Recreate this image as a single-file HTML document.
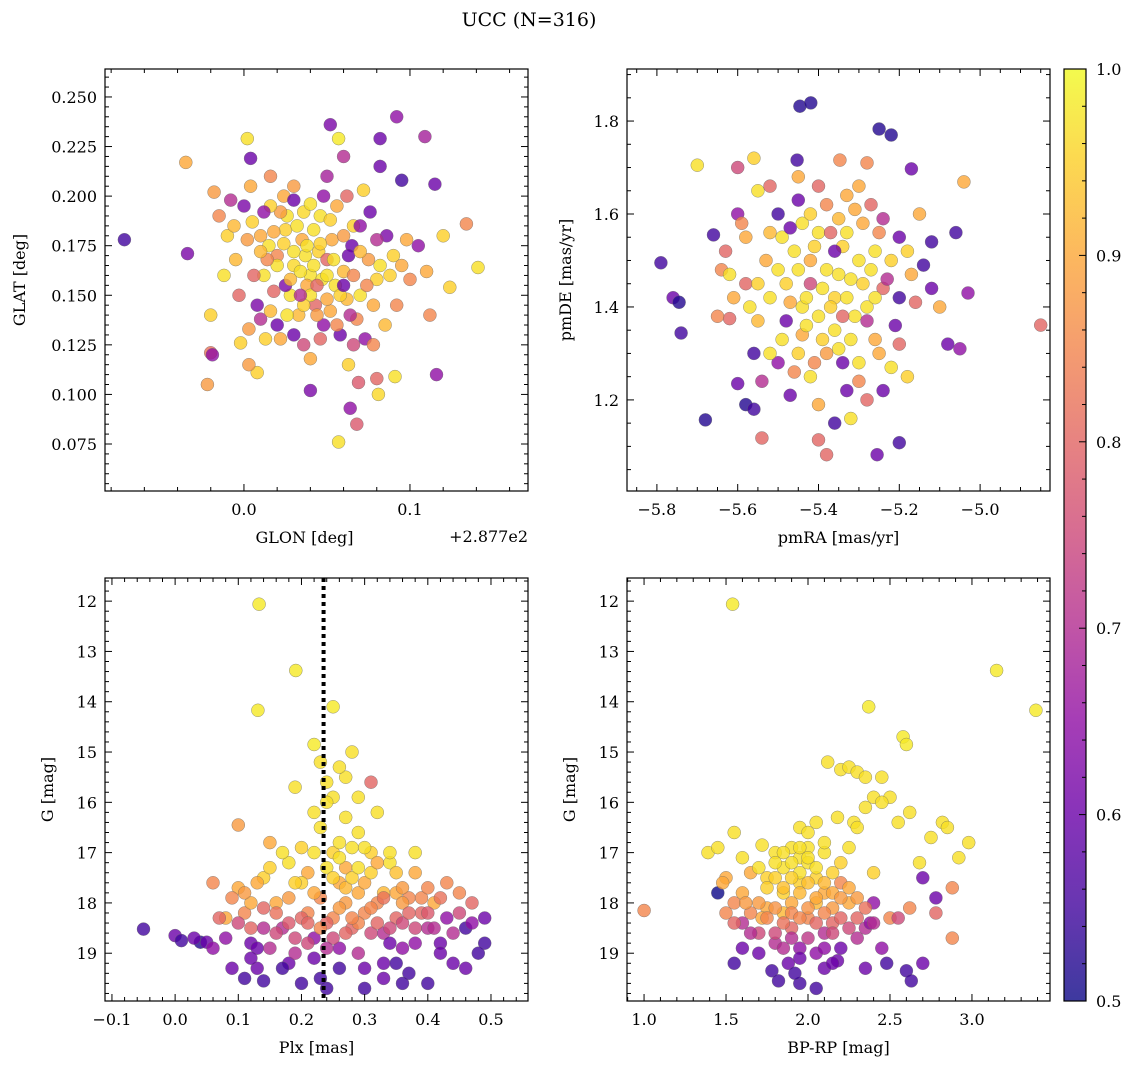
<!DOCTYPE html>
<html><head><meta charset="utf-8"><style>
html,body{margin:0;padding:0;background:#fff}
svg{display:block;font-family:"DejaVu Serif","Liberation Serif",serif}
</style></head><body>
<svg id="chart" width="1136" height="1068" viewBox="0 0 1136 1068" xmlns="http://www.w3.org/2000/svg">
<defs>
<linearGradient id="cbgrad" x1="0" y1="1" x2="0" y2="0">
<stop offset="0" stop-color="#0d0887"/><stop offset="0.1" stop-color="#41049d"/><stop offset="0.2" stop-color="#6a00a8"/><stop offset="0.3" stop-color="#8f0da4"/><stop offset="0.4" stop-color="#b12a90"/><stop offset="0.5" stop-color="#cc4778"/><stop offset="0.6" stop-color="#e16462"/><stop offset="0.7" stop-color="#f2844b"/><stop offset="0.8" stop-color="#fca636"/><stop offset="0.9" stop-color="#fcce25"/><stop offset="1" stop-color="#f0f921"/>
</linearGradient>
</defs>
<text x="529" y="26" text-anchor="middle" font-size="19">UCC (N=316)</text>
<g id="root"></g>
</svg>
<script>
// Panel 1: GLON offset (deg, +287.7), GLAT
const p1x=[-0.072,-0.035,-0.034,-0.022,-0.020,-0.019,0.002,0.004,0.052,0.057,0.082,0.092,0.109,0.115,0.095,0.134,0.141,0.124,0.116,0.091,0.080,0.081,0.069,0.064,0.068,0.057,0.040,0.008,-0.002,
0.000,0.005,0.010,0.015,0.020,0.025,0.030,0.035,0.040,0.045,0.050,0.055,0.060,0.065,0.070,0.075,0.080,0.028,0.033,0.038,0.043,0.048,0.052,0.058,0.062,0.068,0.073,0.078,0.018,0.012,0.008,0.003,0.022,0.013,0.026,0.036,0.046,0.056,0.066,0.076,0.086,0.090,0.095,0.100,0.105,0.092,0.085,-0.010,-0.015,-0.005,-0.012,-0.003,-0.018,-0.008,0.016,0.030,0.050,0.072,0.082,0.060,0.040,0.030,0.063,0.110,0.120,0.112,-0.020,0.003,0.025,0.047,0.037,0.053,0.063,0.020,0.042,
0.030,0.034,0.038,0.042,0.046,0.050,0.054,0.058,0.028,0.024,0.032,0.040,0.044,0.050,0.036,0.026,0.018,0.022,0.014,0.010,0.006,0.060,0.066,0.070,0.074,0.078,0.082,0.056,0.046,0.036,0.064,0.070,0.016,0.002,-0.006,0.024,0.040,0.052,0.062,0.080,0.088,0.098,0.010,0.016,0.020,0.066,0.048,0.030,0.012,0.004,0.044,0.034,0.060];
const p1y=[0.178,0.217,0.171,0.105,0.121,0.120,0.229,0.219,0.236,0.229,0.229,0.240,0.230,0.206,0.208,0.186,0.164,0.154,0.110,0.109,0.108,0.100,0.106,0.093,0.085,0.076,0.102,0.111,0.126,
0.195,0.187,0.180,0.175,0.170,0.183,0.165,0.178,0.160,0.172,0.168,0.155,0.162,0.175,0.150,0.168,0.158,0.150,0.140,0.155,0.145,0.135,0.142,0.130,0.148,0.138,0.128,0.125,0.152,0.160,0.145,0.133,0.128,0.128,0.190,0.192,0.190,0.195,0.185,0.192,0.180,0.170,0.165,0.158,0.175,0.145,0.135,0.180,0.190,0.168,0.160,0.150,0.202,0.198,0.210,0.205,0.210,0.203,0.215,0.220,0.118,0.130,0.115,0.162,0.180,0.140,0.140,0.115,0.155,0.158,0.170,0.178,0.170,0.165,0.183,
0.172,0.162,0.175,0.165,0.176,0.160,0.168,0.150,0.158,0.176,0.185,0.150,0.140,0.148,0.145,0.140,0.182,0.192,0.168,0.172,0.160,0.180,0.160,0.172,0.155,0.145,0.165,0.135,0.128,0.125,0.140,0.185,0.195,0.178,0.185,0.200,0.196,0.188,0.200,0.178,0.160,0.178,0.138,0.142,0.135,0.125,0.200,0.198,0.192,0.205,0.155,0.150,0.155];
const p1c=[.55,.9,.62,.88,.82,.65,.97,.6,.62,.98,.6,.65,.68,.6,.55,.85,.97,.95,.65,.97,.8,.96,.78,.65,.78,.97,.62,.95,.95,
.62,.95,.9,.97,.85,.95,.96,.9,.97,.95,.8,.97,.92,.6,.97,.88,.95,.97,.92,.9,.8,.65,.9,.6,.92,.85,.65,.85,.8,.97,.62,.88,.9,.95,.97,.96,.97,.9,.95,.6,.62,.95,.9,.85,.65,.85,.92,.95,.85,.92,.97,.8,.88,.7,.85,.88,.68,.95,.6,.7,.9,.6,.95,.9,.95,.85,.95,.88,.62,.97,.97,.9,.6,.97,.97,
.97,.97,.97,.97,.95,.97,.97,.95,.92,.95,.97,.97,.88,.9,.95,.97,.9,.88,.85,.92,.8,.88,.85,.92,.85,.9,.97,.85,.8,.75,.7,.65,.95,.88,.92,.9,.97,.95,.8,.7,.95,.9,.7,.92,.6,.75,.65,.6,.65,.9,.8,.7,.6];
// Panel 2: pmRA, pmDE
const p2x=[-5.79,-5.74,-5.76,-5.745,-5.68,-5.70,-5.60,-5.446,-5.419,-5.453,-5.347,-5.25,-5.22,-5.17,-5.04,-4.85,-5.38,-5.255,-5.20,-5.40,-5.54,-5.58,-5.56,-5.60,-5.66,-5.64,-5.62,-5.60,-5.55,-5.56,-5.50,-5.45,-5.40,-5.35,-5.30,-5.28,-5.24,-5.20,-5.15,-5.12,-5.10,-5.08,-5.05,-5.03,-5.06,-5.14,-5.17,-5.18,-5.22,-5.25,-5.28,-5.32,-5.33,-5.36,-5.42,-5.46,-5.50,-5.52,-5.55,-5.58,-5.52,-5.48,-5.44,-5.40,-5.36,-5.32,-5.28,-5.24,-5.20,-5.46,-5.42,-5.38,-5.34,-5.30,-5.26,-5.50,-5.40,-5.36,-5.32,-5.28,-5.44,-5.48,-5.38,-5.34,-5.56,-5.62,-5.58,-5.52,-5.44,-5.31,-5.22,-5.26,-5.42,-5.36,
-5.45,-5.43,-5.41,-5.39,-5.37,-5.35,-5.33,-5.31,-5.29,-5.27,-5.47,-5.49,-5.43,-5.39,-5.35,-5.30,-5.41,-5.45,-5.53,-5.55,-5.57,-5.49,-5.33,-5.29,-5.25,-5.23,-5.21,-5.18,-5.16,-5.12,-5.45,-5.38,-5.33,-5.27,-5.52,-5.59,-5.63,-5.61,-5.65,-5.54,-5.47,-5.40,-5.30,-5.24,-5.34,-5.37,-5.42,-5.47,-5.26,-5.20];
const p2y=[1.495,1.344,1.42,1.41,1.157,1.705,1.70,1.832,1.839,1.716,1.716,1.783,1.77,1.697,1.669,1.361,1.082,1.082,1.108,1.114,1.118,1.19,1.18,1.235,1.555,1.48,1.375,1.60,1.65,1.72,1.60,1.63,1.66,1.59,1.66,1.71,1.59,1.55,1.60,1.54,1.40,1.32,1.31,1.43,1.56,1.49,1.47,1.25,1.27,1.30,1.20,1.16,1.22,1.15,1.25,1.26,1.28,1.30,1.37,1.45,1.42,1.45,1.40,1.38,1.42,1.46,1.40,1.44,1.42,1.52,1.50,1.48,1.53,1.50,1.52,1.48,1.56,1.35,1.33,1.37,1.34,1.37,1.30,1.28,1.30,1.47,1.55,1.56,1.58,1.61,1.50,1.33,1.45,1.52,
1.48,1.42,1.53,1.44,1.40,1.47,1.42,1.38,1.45,1.48,1.41,1.55,1.36,1.33,1.31,1.28,1.28,1.30,1.50,1.45,1.40,1.33,1.56,1.58,1.56,1.46,1.36,1.52,1.41,1.44,1.68,1.62,1.64,1.62,1.66,1.58,1.52,1.42,1.38,1.24,1.21,1.19,1.24,1.22,1.38,1.56,1.60,1.57,1.42,1.32];
const p2c=[.55,.55,.6,.52,.52,.97,.75,.52,.52,.55,.85,.52,.52,.6,.9,.8,.8,.6,.55,.8,.8,.52,.55,.6,.55,.85,.8,.65,.97,.95,.55,.6,.8,.92,.9,.85,.7,.6,.9,.55,.9,.6,.65,.65,.55,.55,.9,.95,.97,.9,.8,.97,.6,.55,.97,.85,.65,.97,.92,.8,.97,.95,.97,.97,.95,.97,.97,.8,.55,.97,.9,.97,.95,.97,.97,.97,.97,.97,.97,.7,.9,.6,.88,.6,.55,.97,.9,.92,.97,.9,.95,.9,.75,.6,
.97,.97,.95,.97,.95,.97,.97,.97,.95,.97,.9,.97,.97,.95,.97,.97,.85,.95,.9,.95,.97,.97,.97,.9,.85,.7,.6,.95,.8,.6,.9,.85,.9,.8,.8,.85,.8,.9,.85,.7,.6,.9,.85,.6,.8,.8,.95,.6,.97,.8];
// Panel 3: Plx, G
const p3x=[0.133,0.191,0.131,-0.05,0.00,0.01,0.04,0.05,0.06,0.08,0.10,0.10,0.11,0.12,0.13,0.14,0.14,0.15,0.16,0.17,0.18,0.19,0.19,0.20,0.21,0.21,0.22,0.22,0.22,0.23,0.23,0.20,0.24,0.25,0.25,0.25,0.26,0.26,0.27,0.27,0.28,0.28,0.29,0.29,0.30,0.30,0.31,0.31,0.32,0.32,0.33,0.33,0.34,0.35,0.35,0.36,0.37,0.37,0.38,0.39,0.40,0.40,0.41,0.42,0.43,0.44,0.45,0.46,0.47,0.49,0.49,0.30,0.16,0.18,0.27,0.29,0.34,0.24,0.14,0.12,0.36,0.38,0.43,0.26,0.31,0.20,
0.18,0.20,0.22,0.22,0.23,0.24,0.24,0.25,0.26,0.26,0.27,0.27,0.28,0.28,0.29,0.30,0.30,0.31,0.32,0.33,0.34,0.19,0.17,0.15,0.13,0.11,0.09,0.07,0.08,0.10,0.12,0.13,0.15,0.17,0.19,0.21,0.22,0.23,0.25,0.26,0.27,0.29,0.31,0.32,0.33,0.34,0.35,0.36,0.37,0.38,0.39,0.40,0.41,0.42,0.44,0.45,0.47,0.48,0.46,0.35,0.36,0.38,0.40,0.42,0.28,0.24,0.21,0.18,0.16,0.14,0.12,0.06,0.03,0.09,0.11,0.23,0.33,0.36,0.29,0.24,0.25,0.26];
const p3y=[12.06,13.38,14.17,18.52,18.65,18.75,18.78,18.78,17.6,18.3,16.45,17.7,18.2,18.8,19.3,19.55,17.5,16.8,18.0,18.5,19.2,19.0,15.7,16.9,17.4,18.2,14.85,16.2,18.7,15.2,17.9,19.6,19.7,15.9,17.0,18.3,18.9,16.8,15.5,17.3,18.5,15.0,16.6,17.8,18.2,19.3,15.6,17.0,16.2,18.0,18.6,19.2,17.2,17.8,18.3,18.9,17.9,19.4,17.0,18.2,18.5,19.6,18.0,18.8,18.3,19.2,17.8,18.5,18.0,18.8,18.3,19.7,18.6,17.9,18.0,19.0,18.5,18.4,18.1,18.0,18.0,18.5,17.6,17.6,18.6,18.3,
17.2,17.6,17.0,17.8,16.5,17.3,16.0,17.5,17.1,18.1,16.3,17.7,16.9,17.5,17.3,16.9,17.6,17.4,17.2,17.8,17.0,17.6,17.0,17.3,17.6,17.8,17.9,18.3,18.7,18.4,18.5,18.9,18.9,19.3,18.7,18.8,19.1,18.5,18.7,19.3,18.6,18.4,18.1,18.4,17.9,18.8,19.2,18.4,18.2,18.8,17.9,18.2,18.5,19.0,18.6,18.2,18.4,19.0,19.3,17.4,17.7,17.4,17.7,17.9,18.3,18.9,18.4,18.4,18.2,18.5,19.1,18.9,18.7,19.3,19.5,19.5,19.5,19.6,15.9,15.6,14.1,15.3];
const p3c=[.98,.98,.98,.55,.6,.55,.52,.6,.85,.9,.88,.9,.85,.6,.6,.55,.95,.9,.9,.7,.6,.7,.97,.95,.9,.85,.98,.97,.65,.97,.85,.55,.55,.97,.95,.85,.65,.97,.97,.9,.8,.97,.97,.9,.85,.6,.8,.95,.97,.85,.7,.6,.97,.9,.8,.65,.85,.55,.97,.8,.7,.55,.9,.6,.65,.6,.85,.55,.8,.55,.6,.55,.75,.88,.88,.7,.75,.8,.8,.9,.88,.75,.85,.9,.75,.8,
.97,.95,.97,.9,.97,.97,.97,.95,.97,.88,.97,.92,.97,.95,.97,.97,.9,.95,.9,.92,.97,.95,.97,.95,.9,.88,.85,.8,.65,.75,.8,.6,.7,.55,.75,.75,.6,.85,.75,.55,.8,.85,.85,.8,.82,.6,.55,.75,.8,.65,.85,.78,.7,.6,.7,.75,.65,.55,.6,.93,.88,.9,.85,.82,.85,.7,.8,.78,.82,.7,.6,.65,.6,.6,.55,.55,.6,.55,.97,.97,.98,.97];
// Panel 4: BP-RP, G
const p4x=[1.54,3.15,3.39,2.37,2.58,2.60,1.00,2.12,2.20,2.25,2.30,2.35,2.45,2.50,2.40,2.18,2.05,2.28,2.55,2.82,2.75,2.98,2.92,1.39,1.45,1.55,1.72,1.80,1.90,1.95,2.00,1.85,1.75,1.65,1.50,1.45,1.55,1.65,1.75,1.85,1.90,1.95,2.05,2.10,2.15,2.20,2.25,2.30,2.35,2.40,2.50,2.62,2.70,2.78,2.88,2.88,2.78,1.60,1.70,1.80,1.90,2.00,2.10,2.20,1.55,1.70,1.78,1.88,1.95,2.05,2.10,2.18,2.35,2.48,2.60,2.70,2.38,2.63,1.82,1.95,1.72,2.05,2.15,1.85,1.95,2.00,
1.80,1.85,1.90,1.95,2.00,2.05,2.10,2.15,1.75,1.80,1.85,1.90,1.95,2.00,2.05,2.10,2.15,2.20,2.25,1.70,1.75,1.80,1.85,1.90,1.95,2.00,2.05,2.10,2.15,2.20,2.25,1.80,1.85,1.90,1.95,2.00,2.05,2.10,2.15,1.92,1.60,1.62,1.55,1.50,1.65,1.60,2.30,2.35,2.40,2.45,2.30,2.55,2.20,2.25,2.30,2.10,2.45,2.35,1.95,2.00,1.60,1.70,2.62,2.68,2.85,1.48,2.40];
const p4y=[12.06,13.38,14.17,14.1,14.7,14.85,18.15,15.2,15.35,15.3,15.4,15.5,15.5,15.9,15.9,16.3,16.4,16.4,16.4,16.4,16.7,16.8,17.1,17.0,16.9,16.6,16.85,17.0,16.9,17.1,16.9,17.3,17.5,17.4,17.5,17.8,18.0,18.2,18.1,17.8,18.0,17.6,17.5,17.8,18.1,17.6,18.0,18.3,18.5,18.0,18.3,18.1,17.5,17.9,17.7,18.7,18.2,18.4,18.6,18.8,18.5,18.3,18.6,18.9,19.2,19.0,19.35,19.2,19.6,19.7,19.3,19.15,19.3,19.2,19.35,19.2,18.4,19.55,19.55,18.9,18.3,18.0,18.4,18.2,17.4,17.2,
17.2,17.0,17.2,16.9,17.1,17.3,17.0,17.4,17.7,17.5,17.7,17.5,17.8,17.6,17.9,17.6,17.8,17.9,17.7,18.0,18.3,18.1,18.4,18.2,18.3,18.1,18.4,18.2,18.6,18.3,18.5,18.6,18.9,18.7,19.1,18.7,19.0,18.9,19.2,19.4,17.8,18.0,18.4,18.2,18.6,18.9,17.9,18.1,18.4,18.9,18.7,18.3,17.2,16.9,16.5,16.8,16.0,16.1,16.5,16.6,17.1,17.3,16.2,17.2,16.5,17.6,17.4];
const p4c=[.98,.98,.98,.98,.98,.98,.85,.97,.97,.97,.97,.97,.97,.97,.97,.97,.97,.97,.97,.97,.97,.97,.97,.97,.97,.97,.97,.97,.97,.97,.97,.97,.95,.9,.9,.5,.85,.85,.9,.95,.9,.95,.95,.9,.88,.85,.9,.8,.7,.65,.85,.85,.6,.6,.85,.85,.8,.7,.75,.7,.8,.85,.7,.6,.55,.6,.55,.6,.55,.55,.6,.6,.6,.55,.55,.6,.65,.55,.55,.65,.9,.92,.8,.92,.97,.97,
.97,.97,.97,.97,.97,.97,.97,.95,.95,.95,.93,.95,.92,.93,.9,.92,.9,.88,.9,.88,.85,.87,.82,.85,.85,.87,.8,.85,.75,.8,.75,.75,.7,.7,.6,.72,.65,.65,.6,.55,.9,.88,.8,.85,.7,.6,.88,.82,.7,.65,.7,.75,.95,.97,.97,.97,.97,.97,.97,.97,.97,.97,.97,.97,.97,.9,.95];
const cbTicks=[0.5,0.6,0.7,0.8,0.9,1.0];

const NS="http://www.w3.org/2000/svg";
const root=document.getElementById('root');
function mk(tag,attrs,parent){const e=document.createElementNS(NS,tag);for(const k in attrs)e.setAttribute(k,attrs[k]);(parent||root).appendChild(e);return e;}
const stops=[[0,[13,8,135]],[.1,[65,4,157]],[.2,[106,0,168]],[.3,[143,13,164]],[.4,[177,42,144]],[.5,[204,71,120]],[.6,[225,100,98]],[.7,[242,132,75]],[.8,[252,166,54]],[.9,[252,206,37]],[1,[240,249,33]]];
function plasma(v){let t=Math.max(0,Math.min(1,(v-0.5)/0.5));for(let i=1;i<stops.length;i++){if(t<=stops[i][0]){const a=stops[i-1],b=stops[i];const f=(t-a[0])/(b[0]-a[0]);const c=a[1].map((x,j)=>Math.round(x+(b[1][j]-x)*f));return `rgb(${c[0]},${c[1]},${c[2]})`;}}return 'rgb(240,249,33)';}
function fmt(v,d){return (v<0?'\u2212':'')+Math.abs(v).toFixed(d);}

function panel(cfg){
  const g=mk('g',{});
  
  
  const {L,R,T,B,x0,x1,y0,y1}=cfg;
  const sx=v=>L+(v-x0)/(x1-x0)*(R-L);
  const sy=v=>cfg.inv? T+(v-y0)/(y1-y0)*(B-T) : B-(v-y0)/(y1-y0)*(B-T);
  const pts=mk('g',{},g);
  
  
  for(let i=0;i<cfg.xs.length;i++){
    const c=mk('circle',{cx:sx(cfg.xs[i]).toFixed(1),cy:sy(cfg.ys[i]).toFixed(1),r:6.5,fill:plasma(cfg.cs[i]),'fill-opacity':0.8,stroke:'#666','stroke-width':0.5,'stroke-opacity':0.7},pts);
    
    
  }
  if(cfg.vline!==undefined){
    const l=mk('line',{x1:sx(cfg.vline),x2:sx(cfg.vline),y1:T,y2:B,stroke:'#000','stroke-width':4,'stroke-dasharray':'4,4'},g);
    
    
  }
  const fr=mk('rect',{x:L,y:T,width:R-L,height:B-T,fill:'none',stroke:'#000','stroke-width':1.2},g);
  
  
  const eps=1e-9;
  for(let v=Math.ceil(x0/cfg.xmin-eps)*cfg.xmin; v<=x1+eps; v+=cfg.xmin){
    const isMaj=Math.abs(v/cfg.xmaj-Math.round(v/cfg.xmaj))<1e-6;const len=isMaj?7:4;const X=sx(v);
    mk('line',{x1:X,x2:X,y1:B,y2:B-len,stroke:'#000','stroke-width':1},g);
    mk('line',{x1:X,x2:X,y1:T,y2:T+len,stroke:'#000','stroke-width':1},g);
    if(isMaj){const t=mk('text',{x:X,y:B+24,'text-anchor':'middle','font-size':16},g);t.textContent=fmt(v,cfg.xd);
      }
  }
  for(let v=Math.ceil(Math.min(y0,y1)/cfg.ymin-eps)*cfg.ymin; v<=Math.max(y0,y1)+eps; v+=cfg.ymin){
    const isMaj=Math.abs(v/cfg.ymaj-Math.round(v/cfg.ymaj))<1e-6;const len=isMaj?7:4;const Y=sy(v);
    mk('line',{x1:L,x2:L+len,y1:Y,y2:Y,stroke:'#000','stroke-width':1},g);
    mk('line',{x1:R,x2:R-len,y1:Y,y2:Y,stroke:'#000','stroke-width':1},g);
    if(isMaj){const t=mk('text',{x:L-8,y:Y+6,'text-anchor':'end','font-size':16},g);t.textContent=fmt(v,cfg.yd);
      }
  }
  const xt=mk('text',{x:(L+R)/2+(cfg.xlo||0),y:B+52,'text-anchor':'middle','font-size':16},g);xt.textContent=cfg.xlabel;
  
  const yx=L-cfg.ylo, yy=(T+B)/2;
  const yt=mk('text',{x:yx,y:yy,'text-anchor':'middle','font-size':16,transform:`rotate(-90 ${yx} ${yy})`},g);yt.textContent=cfg.ylabel;
  
}

panel({name:'glon-glat-panel',L:105,R:528,T:69,B:491,x0:-0.0837,x1:0.1711,y0:0.0513,y1:0.2641,xmaj:0.1,xmin:0.02,ymaj:0.025,ymin:0.005,xd:1,yd:3,xs:p1x,ys:p1y,cs:p1c,xlabel:'GLON [deg]',ylabel:'GLAT [deg]',ylo:80,xlo:-12});
const off=mk('text',{x:528,y:542,'text-anchor':'end','font-size':16});off.textContent='+2.877e2';

panel({name:'pm-panel',L:627,R:1050,T:69,B:491,x0:-5.874,x1:-4.827,y0:1.004,y1:1.912,xmaj:0.2,xmin:0.05,ymaj:0.2,ymin:0.05,xd:1,yd:1,xs:p2x,ys:p2y,cs:p2c,xlabel:'pmRA [mas/yr]',ylabel:'pmDE [mas/yr]',ylo:56});
panel({name:'plx-g-panel',L:105,R:528,T:578,B:1001,x0:-0.111,x1:0.5586,y0:11.54,y1:19.95,inv:true,xmaj:0.1,xmin:0.02,ymaj:1,ymin:0.2,xd:1,yd:0,xs:p3x,ys:p3y,cs:p3c,xlabel:'Plx [mas]',ylabel:'G [mag]',ylo:52,vline:0.235});
panel({name:'color-g-panel',L:627,R:1050,T:578,B:1001,x0:0.896,x1:3.476,y0:11.54,y1:19.95,inv:true,xmaj:0.5,xmin:0.1,ymaj:1,ymin:0.2,xd:1,yd:0,xs:p4x,ys:p4y,cs:p4c,xlabel:'BP-RP [mag]',ylabel:'G [mag]',ylo:52});

const cb=mk('g',{});


mk('rect',{x:1064,y:69,width:22,height:932,fill:'url(#cbgrad)','fill-opacity':0.8},cb);
mk('rect',{x:1064,y:69,width:22,height:932,fill:'none',stroke:'#000','stroke-width':1.2},cb);
for(let v=0.5;v<=1.0001;v+=0.02){
  const Y=1001-(v-0.5)/0.5*932;const maj=Math.abs(v*10-Math.round(v*10))<1e-6;
  mk('line',{x1:1086,x2:1086-(maj?7:4),y1:Y,y2:Y,stroke:'#000','stroke-width':1},cb);
}
for(const v of cbTicks){
  const Y=1001-(v-0.5)/0.5*932;
  const t=mk('text',{x:1096,y:Y+6,'font-size':16},cb);t.textContent=v.toFixed(1);
  
}
</script>
</body></html>
